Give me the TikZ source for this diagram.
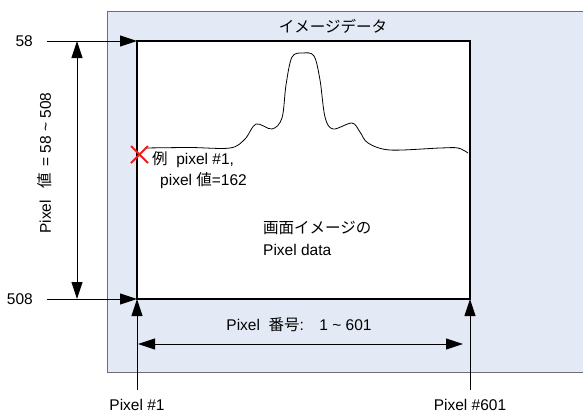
\documentclass[tikz,border=0pt]{standalone}
\usepackage{fontspec}
\setmainfont{Liberation Sans}
\newfontfamily\jp{Noto Sans CJK JP}
\usetikzlibrary{arrows.meta}
\definecolor{panelblue}{RGB}{228, 234, 245}
\definecolor{panelgray}{RGB}{110, 110, 110}
\definecolor{markred}{RGB}{235, 30, 30}

\tikzset{
  lbl/.style={inner sep=0pt, font=\fontsize{15.5}{22}\selectfont},
  dimarr/.style={line width=0.9pt, -{Triangle[length=17pt,width=11pt]}},
  dimboth/.style={line width=0.9pt, {Triangle[length=17pt,width=11pt]}-{Triangle[length=17pt,width=11pt]}},
}

\begin{document}
\begin{tikzpicture}[x=1pt, y=-1pt]
      \useasboundingbox (0,0) rectangle (583,413);
      \clip (0,0) rectangle (583,413);
      % background panel
      \draw[panelgray, fill=panelblue, line width=1pt] (107,11) rectangle (600,372);
      % image area
      \node[draw, line width=2.4pt, fill=white, minimum width=333pt, minimum height=258pt,
            inner sep=0pt, outer sep=0pt, anchor=north west] (img) at (137,41) {};
      \node[lbl] (title) at (333,26) {\jp イメージデータ};
      % profile curve
      \draw[line width=0.8pt] plot[smooth, tension=0.55] coordinates {
        (145,148) (190,147.5) (230,148) (245,139) (256,124) (272,129) (282,118)
        (286,85) (292,57) (303,53) (314,56) (320,80) (325,117) (333,129)
        (352,123) (360,132) (368,143) (390,150) (440,148) (458,148) (468,153)};
      % example pixel
      \draw[markred, line width=2pt] (131,146) -- (148,163) (131,163) -- (148,146);
      \node[lbl, anchor=west] (ex1) at (152,160) {{\jp 例}\ \ pixel \#1,};
      \node[lbl, anchor=west] (ex2) at (160,181) {pixel {\jp 値}=162};
      \node[lbl, anchor=west, align=left] (data) at (263,238) {{\jp 画面イメージの}\\Pixel data};
      % vertical scale
      \node[lbl, anchor=east] (n58) at (33,41) {58};
      \node[lbl, anchor=east] (n508) at (33,299) {508};
      \coordinate (a58) at (47,41);
      \coordinate (a508) at (47,299);
      \draw[dimarr] (a58) -- (img.north west);
      \draw[dimarr] (a508) -- (img.south west);
      \coordinate (vtop) at (77,41);
      \coordinate (vbot) at (77,299);
      \draw[dimboth] (vtop) -- (vbot);
      \node[lbl, rotate=90] (vlbl) at (45,163) {Pixel\hspace{12pt}{\jp 値}\hspace{6pt}= 58 \textasciitilde{} 508};
      % horizontal scale
      \node[lbl] (p1) at (137,405) {Pixel \#1};
      \node[lbl] (p601) at (470,405) {Pixel \#601};
      \coordinate (b1) at (137,390);
      \coordinate (b601) at (470,390);
      \draw[dimarr] (b1) -- (img.south west);
      \draw[dimarr] (b601) -- (img.south east);
      \coordinate (hl) at (138,344);
      \coordinate (hr) at (463,344);
      \draw[dimboth] (hl) -- (hr);
      \node[lbl] (hlbl) at (299,325) {Pixel\ \ {\jp 番号}:\quad 1 \textasciitilde{} 601};
    \end{tikzpicture}
\end{document}
